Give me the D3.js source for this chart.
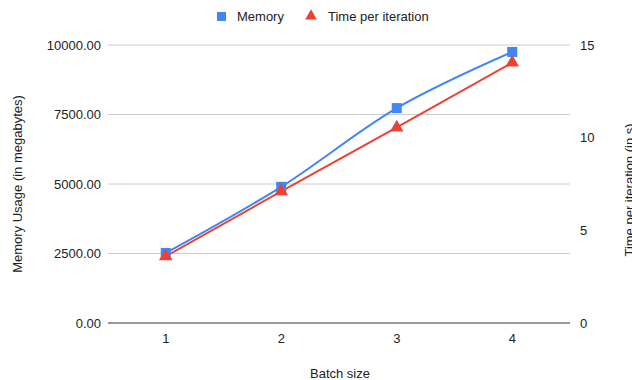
<!DOCTYPE html>
<html>
<head>
<meta charset="utf-8">
<style>
  body { margin: 0; background: #fff; }
  text { font-family: "Liberation Sans", Arial, sans-serif; fill: #222; }
</style>
</head>
<body>
<div id="chart"></div>
<script src="https://d3js.org/d3.v7.min.js"></script>
<script>
var batchSizes = ["1", "2", "3", "4"];
var memoryMB = [2520, 4900, 7730, 9750];
var timePerIter = [3.6, 7.1, 10.55, 14.05];
var memTicks = [0, 2500, 5000, 7500, 10000];
var timeTicks = [0, 5, 10, 15];

var W = 632, H = 380;
// plot edges (avoid "top", it clashes with window.top)
var pLeft = 108, pRight = 570, pTop = 45, pBottom = 323;
var blue = "#4285f4", red = "#ea4335";
var fs = "13px";

var svg = d3.select("#chart").append("svg").attr("width", W).attr("height", H);

var x = d3.scalePoint().domain(batchSizes).range([pLeft, pRight]).padding(0.5);
var yMem = d3.scaleLinear().domain([0, 10000]).range([pBottom, pTop]);
var yTime = d3.scaleLinear().domain([0, 15]).range([pBottom, pTop]);

// gridlines (left axis)
svg.selectAll(".grid").data(memTicks.slice(1)).enter().append("line")
  .attr("x1", pLeft).attr("x2", pRight)
  .attr("y1", function(d){ return yMem(d); }).attr("y2", function(d){ return yMem(d); })
  .attr("stroke", "#cccccc").attr("stroke-width", 1);

// baseline
svg.append("line").attr("x1", pLeft).attr("x2", pRight)
  .attr("y1", yMem(0)).attr("y2", yMem(0))
  .attr("stroke", "#333").attr("stroke-width", 1);

// left tick labels
svg.selectAll(".ml").data(memTicks).enter().append("text")
  .attr("x", pLeft - 7).attr("y", function(d){ return yMem(d); })
  .attr("dy", "0.35em").attr("text-anchor", "end").style("font-size", fs)
  .text(function(d){ return d3.format(".2f")(d); });

// right tick labels
svg.selectAll(".tl").data(timeTicks).enter().append("text")
  .attr("x", pRight + 10).attr("y", function(d){ return yTime(d); })
  .attr("dy", "0.35em").attr("text-anchor", "start").style("font-size", fs)
  .text(function(d){ return d; });

// x labels
svg.selectAll(".xl").data(batchSizes).enter().append("text")
  .attr("x", function(d){ return x(d); }).attr("y", pBottom + 20)
  .attr("text-anchor", "middle").style("font-size", fs)
  .text(function(d){ return d; });

// axis titles
svg.append("text").attr("x", 340).attr("y", 378).attr("text-anchor", "middle")
  .style("font-size", fs).text("Batch size");
svg.append("text").attr("transform", "translate(22," + ((pTop + pBottom) / 2) + ") rotate(-90)")
  .attr("text-anchor", "middle").style("font-size", fs).text("Memory Usage (in megabytes)");
svg.append("text").attr("transform", "translate(634,190) rotate(-90)")
  .attr("text-anchor", "middle").style("font-size", fs).text("Time per iteration (in s)");

// lines
var memLine = d3.line().curve(d3.curveCatmullRom.alpha(0.5))
  .x(function(d, i){ return x(batchSizes[i]); }).y(function(d){ return yMem(d); });
var timeLine = d3.line()
  .x(function(d, i){ return x(batchSizes[i]); }).y(function(d){ return yTime(d); });

svg.append("path").attr("d", memLine(memoryMB)).attr("fill", "none")
  .attr("stroke", blue).attr("stroke-width", 2);
svg.append("path").attr("d", timeLine(timePerIter)).attr("fill", "none")
  .attr("stroke", red).attr("stroke-width", 2);

// markers
svg.selectAll(".mm").data(memoryMB).enter().append("rect")
  .attr("x", function(d, i){ return x(batchSizes[i]) - 5; })
  .attr("y", function(d){ return yMem(d) - 5; })
  .attr("width", 10).attr("height", 10).attr("fill", blue);

var tri = d3.symbol().type(d3.symbolTriangle).size(80);
svg.selectAll(".tm").data(timePerIter).enter().append("path")
  .attr("d", tri)
  .attr("transform", function(d, i){ return "translate(" + x(batchSizes[i]) + "," + yTime(d) + ")"; })
  .attr("fill", red);

// legend
var lg = svg.append("g");
lg.append("rect").attr("x", 217).attr("y", 12).attr("width", 9).attr("height", 9).attr("fill", blue);
lg.append("text").attr("x", 237).attr("y", 21).style("font-size", fs).text("Memory");
lg.append("path").attr("d", d3.symbol().type(d3.symbolTriangle).size(60))
  .attr("transform", "translate(311,16)").attr("fill", red);
lg.append("text").attr("x", 328).attr("y", 21).style("font-size", fs).text("Time per iteration");
</script>
</body>
</html>
